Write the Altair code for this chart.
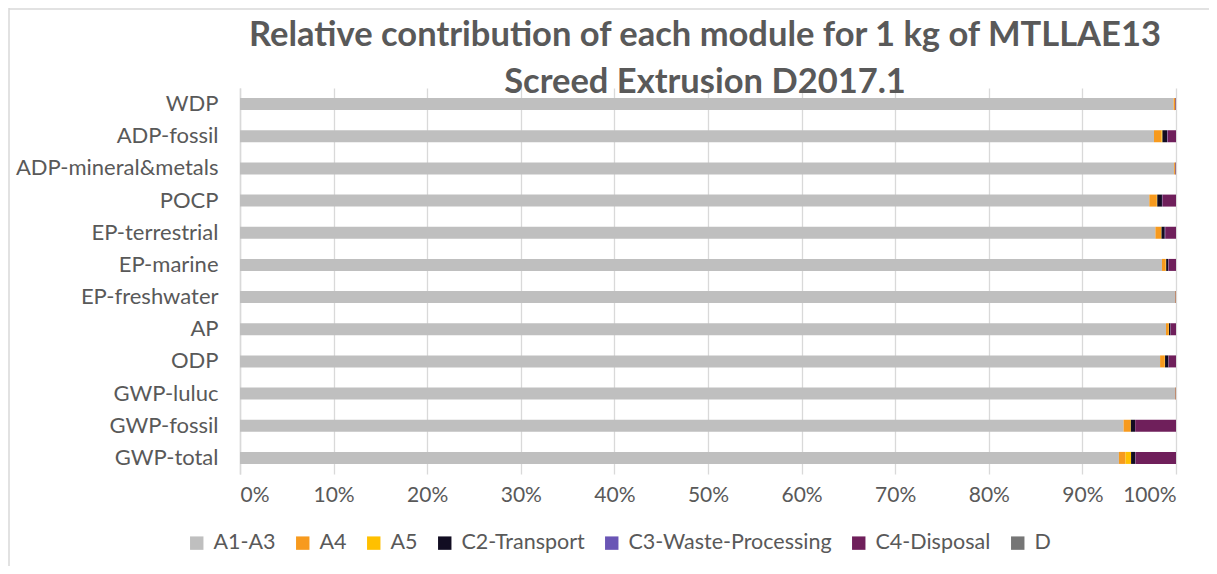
import altair as alt
import pandas as pd

categories = ["WDP", "ADP-fossil", "ADP-mineral&metals", "POCP", "EP-terrestrial",
              "EP-marine", "EP-freshwater", "AP", "ODP", "GWP-luluc", "GWP-fossil", "GWP-total"]
modules = ["A1-A3", "A4", "A5", "C2-Transport", "C3-Waste-Processing", "C4-Disposal", "D"]
colors = ["#bfbfbf", "#f79a1e", "#ffc000", "#120d22", "#6a55b5", "#6f1f5b", "#767676"]
title_lines = ["Relative contribution of each module for 1 kg of MTLLAE13",
               "Screed Extrusion D2017.1"]

a1a3 = [99.75, 97.65, 99.8, 97.15, 97.8, 98.5, 99.9, 98.93, 98.3, 99.9, 94.4, 93.9]
a4 = [0.15, 0.8, 0.1, 0.8, 0.6, 0.4, 0.05, 0.3, 0.5, 0.05, 0.7, 0.7]
a5 = [0.02, 0.1, 0.02, 0.05, 0.05, 0.05, 0.01, 0.02, 0.03, 0.01, 0.07, 0.6]
c2 = [0.02, 0.5, 0.02, 0.5, 0.35, 0.2, 0.01, 0.15, 0.35, 0.01, 0.45, 0.45]
c3 = [0.01, 0.05, 0.01, 0.05, 0.05, 0.05, 0.0, 0.02, 0.02, 0.0, 0.02, 0.02]
c4 = [0.05, 0.9, 0.05, 1.45, 1.15, 0.8, 0.03, 0.58, 0.8, 0.03, 4.36, 4.33]
d = [0, 0, 0, 0, 0, 0, 0, 0, 0, 0, 0, 0]

series = [a1a3, a4, a5, c2, c3, c4, d]
rows = []
for mi, (m, vals) in enumerate(zip(modules, series)):
    for c, v in zip(categories, vals):
        rows.append({"Indicator": c, "Module": m, "Value": v, "ord": mi})
df = pd.DataFrame(rows)

FONT = "Lato"
bars = alt.Chart(df).mark_bar(size=12).encode(
    y=alt.Y("Indicator:N", sort=categories, title=None,
            axis=alt.Axis(labelFontSize=22, labelColor="#595959", labelFont=FONT,
                          ticks=False, labelPadding=22, domainColor="#d9d9d9",
                          domainWidth=1.5, labelLimit=400)),
    x=alt.X("Value:Q", stack="normalize", title=None,
            scale=alt.Scale(domain=[0, 1]),
            axis=alt.Axis(format=".0%", values=[i / 10 for i in range(11)],
                          labelFontSize=21, labelColor="#595959", labelFont=FONT,
                          ticks=False, domain=False, gridColor="#d9d9d9",
                          gridWidth=1.3, labelPadding=10)),
    color=alt.Color("Module:N", sort=modules,
                    scale=alt.Scale(domain=modules, range=colors),
                    legend=alt.Legend(orient="none", legendX=-54, legendY=444,
                                      direction="horizontal", title=None,
                                      symbolType="square", symbolSize=180,
                                      symbolStrokeWidth=0, labelLimit=400,
                                      labelFontSize=21.5, labelColor="#595959",
                                      labelFont=FONT, columnPadding=16,
                                      labelOffset=6)),
    order=alt.Order("ord:Q"),
)

title_df = pd.DataFrame({"line": title_lines, "i": [0, 1]})
title = alt.Chart(title_df).mark_text(
    font=FONT, fontSize=34.5, fontWeight="bold", color="#595959",
    align="center", baseline="alphabetic").encode(
    text="line:N",
    x=alt.value(465),
    y=alt.Y("i:Q", scale=alt.Scale(domain=[0, 1], range=[-42, 5]), axis=None),
)

# chart-area frame (left and top edges, as in the reference)
frame_df = pd.DataFrame({"k": [0]})
left_edge = alt.Chart(frame_df).mark_rule(color="#d9d9d9", strokeWidth=1.5).encode(
    x=alt.value(-231), y=alt.value(-80), y2=alt.value(490))
top_edge = alt.Chart(frame_df).mark_rule(color="#d9d9d9", strokeWidth=1.5).encode(
    x=alt.value(-231), x2=alt.value(980), y=alt.value(-79))

chart = alt.layer(bars, title, left_edge, top_edge).resolve_scale(y="independent").properties(
    width=936, height=386,
    autosize=alt.AutoSizeParams(type="none"),
    padding={"left": 232, "top": 80, "right": 33, "bottom": 92},
).configure_view(stroke=None).configure_scale(bandPaddingInner=0.62, bandPaddingOuter=0.31)

chart.save("out.html", embed_options={"renderer": "svg", "actions": False})
